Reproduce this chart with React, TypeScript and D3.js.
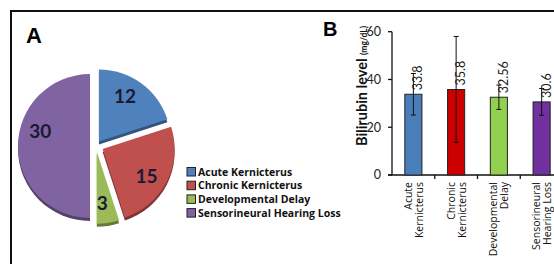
import React from "react";
import * as d3 from "d3";

// pie data (panel A)
const pieCategories = ["Acute Kernicterus", "Chronic Kernicterus", "Developmental Delay", "Sensorineural Hearing Loss"];
const pieValues = [12, 15, 3, 30];
const pieColors = ["#4F81BD", "#C0504D", "#9BBB59", "#8064A2"];
const pieExplode = [10, 13, 9, 0];
const pieLabelTurn = [-0.1, 0.09, 0.05, 0.28]; // radians, nudges label along the slice

// bar data (panel B)
const barLabels = [["Acute", "Kernicterus"], ["Chronic", "Kernicterus"], ["Developmental", "Delay"], ["Sensorineural", "Hearing Loss"]];
const barMeans = [33.8, 35.8, 32.56, 30.6];
const barSD = [8.7, 22.2, 5.1, 5.6];
const barValueText = ["33.8", "35.8", "32.56", "30.6"];
const barColors = ["#4A7EBB", "#CC0000", "#92D050", "#7030A0"];
const yTicks = [0, 20, 40, 60];

const W = 554, H = 264;
const font = "Lato, 'Open Sans', sans-serif";
const wideFont = "'Open Sans', Lato, sans-serif";

export default function App() {
  // ---- pie
  const cx = 90, cy = 146, r = 72;
  const arcs = d3.pie<number>().sort(null).startAngle(0).endAngle(2 * Math.PI)(pieValues);
  const arc = d3.arc<d3.PieArcDatum<number>>().innerRadius(0).outerRadius(r);
  const labelR = r * 0.72;

  const offset = (a: d3.PieArcDatum<number>, i: number) => {
    const mid = (a.startAngle + a.endAngle) / 2;
    const dir = (mid + Math.PI / 2) / 2;
    return [Math.sin(dir) * pieExplode[i], -Math.cos(dir) * pieExplode[i]];
  };

  // ---- bars
  const y = d3.scaleLinear().domain([0, 60]).range([175, 31.7]);
  const x = d3.scaleBand<string>().domain(pieCategories).range([392, 563]).paddingInner(0.6).paddingOuter(0.3);
  const step = x.step();

  return (
    <svg width={W} height={H} style={{ position: "absolute", left: 0, top: 0, background: "#fff" }}>
      {/* frame */}
      <line x1={10} x2={W} y1={11} y2={11} stroke="#111" strokeWidth={2} />
      <line x1={11} x2={11} y1={10} y2={H} stroke="#111" strokeWidth={2} />

      {/* panel A */}
      <text x={26} y={43} fontFamily="'Liberation Sans', Arial, sans-serif" fontWeight="bold" fontSize={22}>A</text>
      <g>
        {arcs.map((a, i) => {
          const [dx, dy] = offset(a, i);
          const base = d3.color(pieColors[i])!;
          return (
            <g key={i} transform={`translate(${cx + dx},${cy + dy})`}>
              <path d={arc(a)!} transform="translate(0,3)" fill={base.darker(1.2).toString()} />
              <path d={arc(a)!} fill={pieColors[i]} />
            </g>
          );
        })}
        {arcs.map((a, i) => {
          const [dx, dy] = offset(a, i);
          const ang = (a.startAngle + a.endAngle) / 2 + pieLabelTurn[i];
          const lx = Math.sin(ang) * labelR;
          const ly = -Math.cos(ang) * labelR;
          return (
            <text key={i} x={cx + dx + lx} y={cy + dy + ly} dy="0.35em" textAnchor="middle"
              fontFamily={font} fontWeight="bold" fontSize={19} fill="#1a1a33">
              {pieValues[i]}
            </text>
          );
        })}
      </g>

      {/* legend */}
      {pieCategories.map((c, i) => (
        <g key={c} transform={`translate(187,${172 + i * 13.7})`}>
          <rect x={0} y={-4.5} width={8.5} height={8.5} fill={pieColors[i]} stroke="#222" strokeWidth={1} />
          <text x={11} y={0} dy="0.35em" fontFamily={wideFont} fontWeight="bold" fontSize={10.5} fill="#111">{c}</text>
        </g>
      ))}

      {/* panel B */}
      <text x={323} y={36} fontFamily="'Liberation Sans', Arial, sans-serif" fontWeight="bold" fontSize={20}>B</text>
      <text transform="translate(367,86) rotate(-90)" textAnchor="middle" fontFamily={font} fill="#111">
        <tspan fontSize={14.5} fontWeight="bold">Bilirubin level </tspan>
        <tspan fontSize={8.5} fontWeight="bold">(mg/dL)</tspan>
      </text>

      {/* y axis */}
      <line x1={392} x2={392} y1={y(60)} y2={y(0)} stroke="#111" strokeWidth={1.3} />
      {yTicks.map((t) => (
        <g key={t}>
          <line x1={388} x2={392} y1={y(t)} y2={y(t)} stroke="#111" strokeWidth={1.3} />
          <text x={381} y={y(t)} dy="0.35em" textAnchor="end" fontFamily={font} fontSize={12.5} fill="#222">{t}</text>
        </g>
      ))}

      {/* x axis */}
      <line x1={388} x2={W} y1={y(0)} y2={y(0)} stroke="#111" strokeWidth={1.3} />
      {pieCategories.slice(1).map((c) => (
        <line key={c} x1={x(c)! - (step - x.bandwidth()) / 2} x2={x(c)! - (step - x.bandwidth()) / 2}
          y1={y(0)} y2={y(0) + 4} stroke="#111" strokeWidth={1.3} />
      ))}

      {/* bars */}
      {pieCategories.map((c, i) => {
        const bx = x(c)!;
        const bw = x.bandwidth();
        const mx = bx + bw / 2;
        return (
          <g key={c}>
            <rect x={bx} y={y(barMeans[i])} width={bw} height={y(0) - y(barMeans[i])}
              fill={barColors[i]} stroke="#222" strokeWidth={1} />
            <line x1={mx} x2={mx} y1={y(barMeans[i] + barSD[i])} y2={y(barMeans[i] - barSD[i])} stroke="#111" strokeWidth={1} />
            <line x1={mx - 2.5} x2={mx + 2.5} y1={y(barMeans[i] + barSD[i])} y2={y(barMeans[i] + barSD[i])} stroke="#111" strokeWidth={1} />
            <line x1={mx - 2.5} x2={mx + 2.5} y1={y(barMeans[i] - barSD[i])} y2={y(barMeans[i] - barSD[i])} stroke="#111" strokeWidth={1} />
            <text transform={`translate(${mx + 9},${y(barMeans[i]) - 4}) rotate(-90)`}
              fontFamily={font} fontSize={12.5} fill="#222">{barValueText[i]}</text>
            <text transform={`translate(${mx},182) rotate(-90)`} textAnchor="end" fontFamily={wideFont} fontSize={10.5} fill="#111">
              <tspan x={0} y={-1.5}>{barLabels[i][0]}</tspan>
              <tspan x={0} y={9.5}>{barLabels[i][1]}</tspan>
            </text>
          </g>
        );
      })}
    </svg>
  );
}
